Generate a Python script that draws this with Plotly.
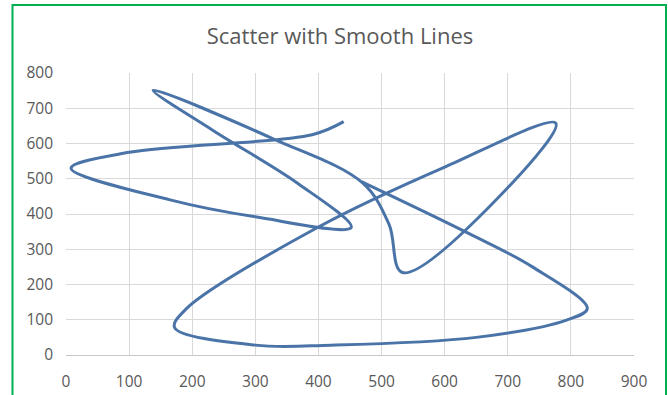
import plotly.graph_objects as go

# Points along the curve, in drawing order
x_vals = [440, 390, 100, 8, 165, 300, 452, 368, 233, 138, 330, 470, 512, 533,
          706, 776, 600, 400, 190, 172, 300, 420, 650, 793, 826, 739, 638, 468]
y_vals = [662, 625, 575, 530, 440, 392, 362, 486, 637, 751, 612, 488, 370, 234,
          486, 658, 533, 363, 130, 78, 28, 28, 50, 99, 132, 250, 345, 492]

x_ticks = [0, 100, 200, 300, 400, 500, 600, 700, 800, 900]
y_ticks = [0, 100, 200, 300, 400, 500, 600, 700, 800]
title_text = "Scatter with Smooth Lines"

fig = go.Figure()
fig.add_trace(go.Scatter(
    x=x_vals, y=y_vals, mode="lines",
    line=dict(color="#4a74a8", width=3, shape="spline", smoothing=1.0),
    showlegend=False, hoverinfo="skip",
))

W, H = 668, 395
L, R, T, B = 66, 34, 73, 40
pw, ph = W - L - R, H - T - B

def px_to_paper_x(px):
    return (px - L) / pw

def px_to_paper_y(py):
    return (H - B - py) / ph

fig.update_layout(
    width=W, height=H,
    margin=dict(l=L, r=R, t=T, b=B, pad=0, autoexpand=False),
    paper_bgcolor="white", plot_bgcolor="white",
    font=dict(family="Open Sans, sans-serif", color="#595959"),
    title=dict(text=title_text, x=340 / W, xref="container", xanchor="center",
               y=1 - 36 / H, yref="container", yanchor="middle",
               font=dict(size=22, color="#595959", family="Open Sans, sans-serif")),
    xaxis=dict(range=[0, 900], tickvals=x_ticks, ticktext=[str(v) for v in x_ticks],
               showgrid=True, gridcolor="#d9d9d9", gridwidth=1.4,
               zeroline=False, showline=True, linecolor="#c8c8c8", linewidth=1.4,
               ticks="", ticklabelstandoff=12, tickfont=dict(size=15.5, color="#595959"),
               automargin=False, fixedrange=True),
    yaxis=dict(range=[0, 800], tickvals=y_ticks, ticktext=[str(v) for v in y_ticks],
               showgrid=True, gridcolor="#d9d9d9", gridwidth=1.4,
               zeroline=False, showline=False,
               ticks="", ticklabelstandoff=12, tickfont=dict(size=15.5, color="#595959"),
               automargin=False, fixedrange=True),
    shapes=[dict(type="rect", xref="paper", yref="paper",
                 x0=px_to_paper_x(12.5), x1=px_to_paper_x(666),
                 y0=px_to_paper_y(400), y1=px_to_paper_y(5),
                 line=dict(color="#00b050", width=2), fillcolor="rgba(0,0,0,0)",
                 layer="above")],
)

fig.write_html("out.html", config={"displayModeBar": False},
               post_script="document.body.style.margin='0';document.body.style.overflow='hidden';")
